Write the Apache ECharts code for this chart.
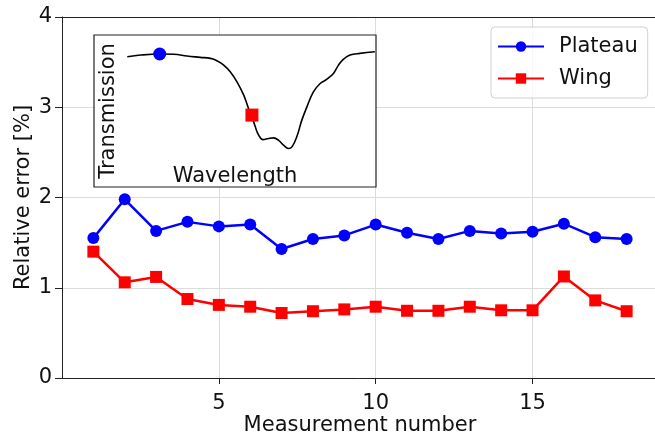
<!DOCTYPE html>
<html lang="en">
<head>
    <meta charset="UTF-8">
    <title>Relative error</title>
    <script src="https://cdn.jsdelivr.net/npm/echarts@6/dist/echarts.min.js"></script>
</head>
<body style="margin:0;">
    <div id="main" style="width:655px;height:437px;"></div>
    <script>
        // measurement numbers and errors
        var measurement = [1, 2, 3, 4, 5, 6, 7, 8, 9, 10, 11, 12, 13, 14, 15, 16, 17, 18];
        var plateau = [1.55, 1.98, 1.63, 1.73, 1.68, 1.70, 1.43, 1.54, 1.58, 1.70, 1.61, 1.54, 1.63, 1.60, 1.62, 1.71, 1.56, 1.54];
        var wing = [1.40, 1.06, 1.12, 0.875, 0.81, 0.79, 0.72, 0.74, 0.76, 0.79, 0.745, 0.745, 0.79, 0.75, 0.75, 1.125, 0.86, 0.74];
        var xTicks = [5, 10, 15];

        // inset spectrum (arbitrary units)
        var wavelength = [11.8, 16.5, 23.3, 28.3, 33.0, 37.7, 41.3, 43.6, 46.0, 48.3, 50.7, 53.1, 54.8, 56.0, 57.2, 58.4, 59.9, 61.9, 63.7, 65.4, 67.2, 69.0, 70.2, 71.9, 73.7, 75.5, 77.8, 80.2, 82.5, 84.9, 86.7, 88.4, 90.8, 94.3, 99.6];
        var transmission = [0.857, 0.868, 0.875, 0.873, 0.862, 0.853, 0.846, 0.831, 0.802, 0.758, 0.692, 0.604, 0.516, 0.462, 0.396, 0.341, 0.312, 0.319, 0.323, 0.308, 0.275, 0.253, 0.264, 0.330, 0.440, 0.527, 0.626, 0.681, 0.708, 0.747, 0.802, 0.840, 0.868, 0.879, 0.890];
        var plateauPoint = [23.3, 0.875];
        var wingPoint = [56.0, 0.473];

        var font = 'DejaVu Sans';
        var fs = 21;
        var chart = echarts.init(document.getElementById('main'));

        var option = {
            animation: false,
            backgroundColor: '#fff',
            textStyle: { fontFamily: font },
            legend: {
                data: ['Plateau', 'Wing'],
                orient: 'vertical',
                left: 491,
                top: 27,
                itemWidth: 46,
                itemHeight: 13,
                itemGap: 11,
                padding: [9, 10, 9, 6],
                borderColor: '#d0d0d0',
                borderWidth: 1,
                borderRadius: 4,
                backgroundColor: 'rgba(255,255,255,0.8)',
                textStyle: { fontFamily: font, fontSize: fs, color: '#111', padding: [0, 0, 0, 10] }
            },
            grid: [{
                left: 62, width: 596, top: 17, bottom: 59,
                outerBoundsMode: 'none',
                containLabel: false
            }, {
                left: 94, top: 35, width: 282, height: 152,
                outerBoundsMode: 'none',
                show: true,
                z: 5,
                borderColor: '#222',
                borderWidth: 1.2,
                backgroundColor: '#fff'
            }],
            xAxis: [{
                type: 'value',
                gridIndex: 0,
                min: 0, max: 19, interval: 5,
                name: 'Measurement number',
                nameLocation: 'middle',
                nameGap: 37,
                nameMoveOverlap: false,
                nameTextStyle: { fontFamily: font, fontSize: fs, color: '#111' },
                axisLine: { show: true, lineStyle: { color: '#222' } },
                axisTick: { show: true, length: 6, customValues: xTicks, lineStyle: { color: '#222' } },
                axisLabel: {
                    fontFamily: font, fontSize: fs, color: '#111', margin: 15,
                    customValues: xTicks
                },
                splitLine: { show: true, lineStyle: { color: '#dcdcdc', width: 1 } }
            }, {
                // top spine
                type: 'value',
                gridIndex: 0,
                position: 'top',
                min: 0, max: 19,
                axisLine: { show: true, lineStyle: { color: '#222' } },
                axisTick: { show: false },
                axisLabel: { show: false },
                splitLine: { show: false }
            }, {
                type: 'value',
                gridIndex: 1,
                min: 0, max: 100,
                z: 5,
                name: 'Wavelength',
                nameLocation: 'middle',
                nameGap: -21,
                nameTextStyle: { fontFamily: font, fontSize: fs, color: '#111' },
                axisLine: { show: false },
                axisTick: { show: false },
                axisLabel: { show: false },
                splitLine: { show: false }
            }],
            yAxis: [{
                type: 'value',
                gridIndex: 0,
                min: 0, max: 4, interval: 1,
                name: 'Relative error [%]',
                nameLocation: 'middle',
                nameGap: 28,
                nameMoveOverlap: false,
                nameTextStyle: { fontFamily: font, fontSize: fs, color: '#111' },
                axisLine: { show: true, lineStyle: { color: '#222' } },
                axisTick: { show: true, length: 7, lineStyle: { color: '#222' } },
                axisLabel: { fontFamily: font, fontSize: fs, color: '#111', margin: 10 },
                splitLine: { show: true, lineStyle: { color: '#dcdcdc', width: 1 } }
            }, {
                type: 'value',
                gridIndex: 1,
                min: 0, max: 1,
                z: 5,
                name: 'Transmission',
                nameLocation: 'middle',
                nameGap: -25,
                nameTextStyle: { fontFamily: font, fontSize: fs, color: '#111' },
                axisLine: { show: false },
                axisTick: { show: false },
                axisLabel: { show: false },
                splitLine: { show: false }
            }],
            series: [{
                name: 'Plateau',
                type: 'line',
                xAxisIndex: 0, yAxisIndex: 0,
                data: measurement.map(function (m, i) { return [m, plateau[i]]; }),
                symbol: 'circle',
                symbolSize: 12,
                lineStyle: { color: '#0000ff', width: 2.5 },
                itemStyle: { color: '#0000ff' },
                z: 3
            }, {
                name: 'Wing',
                type: 'line',
                xAxisIndex: 0, yAxisIndex: 0,
                data: measurement.map(function (m, i) { return [m, wing[i]]; }),
                symbol: 'rect',
                symbolSize: 12,
                lineStyle: { color: '#ff0000', width: 2.5 },
                itemStyle: { color: '#ff0000' },
                z: 3
            }, {
                name: 'spectrum',
                type: 'line',
                xAxisIndex: 2, yAxisIndex: 1,
                data: wavelength.map(function (w, i) { return [w, transmission[i]]; }),
                smooth: 0.4,
                showSymbol: false,
                lineStyle: { color: '#000', width: 1.6 },
                z: 6,
                silent: true
            }, {
                name: 'plateauPoint',
                type: 'scatter',
                xAxisIndex: 2, yAxisIndex: 1,
                data: [plateauPoint],
                symbol: 'circle',
                symbolSize: 13,
                itemStyle: { color: '#0000ff', opacity: 1 },
                z: 7
            }, {
                name: 'wingPoint',
                type: 'scatter',
                xAxisIndex: 2, yAxisIndex: 1,
                data: [wingPoint],
                symbol: 'rect',
                symbolSize: 13,
                itemStyle: { color: '#ff0000', opacity: 1 },
                z: 7
            }]
        };

        chart.setOption(option);
    </script>
</body>
</html>
